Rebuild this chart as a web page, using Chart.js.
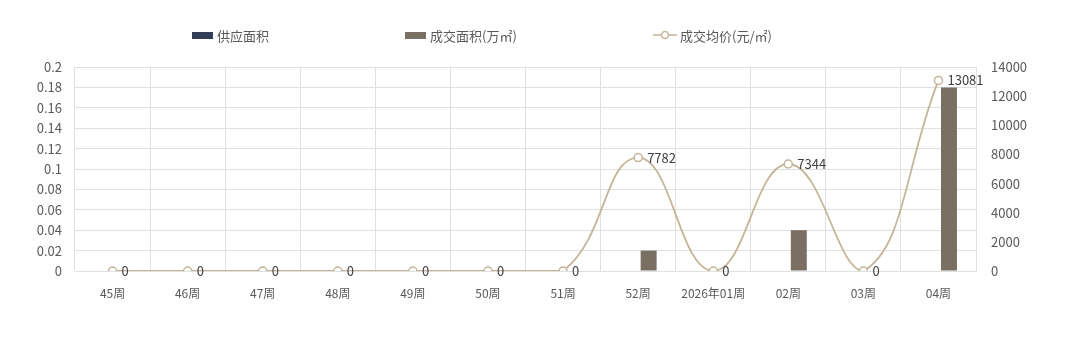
<!DOCTYPE html>
<html lang="zh">
<head>
  <meta charset="UTF-8" />
  <title>供应成交走势</title>
  <script src="https://cdn.jsdelivr.net/npm/chart.js"></script>
  <style>
    html, body { margin: 0; padding: 0; background: #fff; }
    .wrap { position: relative; width: 1080px; height: 351px; }
    .legend { position: absolute; top: 0; left: 0; width: 1080px; height: 60px;
      font-family: "Noto Sans CJK SC", "Noto Sans", sans-serif; font-size: 13px; color: #595959; }
    .legend .item { position: absolute; top: 26px; height: 18px; display: flex; align-items: center; }
    .legend .box { width: 21px; height: 7px; margin-right: 4px; }
  </style>
</head>
<body>
  <div class="wrap">
    <div class="legend">
      <div class="item" style="left:192px"><span class="box" style="background:#333e57"></span>供应面积</div>
      <div class="item" style="left:405px"><span class="box" style="background:#7a6f63"></span>成交面积(万㎡)</div>
      <div class="item" style="left:653px">
        <svg width="24" height="10" style="margin-right:3px">
          <line x1="0" y1="5" x2="24" y2="5" stroke="#c4b597" stroke-width="1.5" />
          <circle cx="12" cy="5" r="3.5" fill="#fff" stroke="#c4b597" stroke-width="1.5" />
        </svg>成交均价(元/㎡)
      </div>
    </div>
    <canvas id="chart" width="1080" height="351"></canvas>
  </div>

  <script>
    const weeks = ["45周", "46周", "47周", "48周", "49周", "50周", "51周", "52周", "2026年01周", "02周", "03周", "04周"];
    const supplyArea = [0, 0, 0, 0, 0, 0, 0, 0, 0, 0, 0, 0];
    const dealArea = [0, 0, 0, 0, 0, 0, 0, 0.02, 0, 0.04, 0, 0.18];
    const avgPrice = [0, 0, 0, 0, 0, 0, 0, 7782, 0, 7344, 0, 13081];

    const fontFamily = '"Noto Sans CJK SC", "Noto Sans", sans-serif';
    const gridColor = "#e0e0e0";

    // value labels next to the price points
    const pointLabels = {
      id: "pointLabels",
      afterDatasetsDraw(chart) {
        const ctx = chart.ctx;
        const meta = chart.getDatasetMeta(2);
        ctx.save();
        ctx.font = "13px " + fontFamily;
        ctx.fillStyle = "#404040";
        ctx.textAlign = "left";
        ctx.textBaseline = "middle";
        meta.data.forEach((pt, i) => {
          ctx.fillText(String(avgPrice[i]), pt.x + 9, pt.y);
        });
        ctx.restore();
      }
    };

    new Chart(document.getElementById("chart"), {
      type: "bar",
      data: {
        labels: weeks,
        datasets: [
          {
            label: "供应面积",
            data: supplyArea,
            backgroundColor: "#333e57",
            yAxisID: "y",
            order: 1,
            categoryPercentage: 0.56,
            barPercentage: 0.76
          },
          {
            label: "成交面积(万㎡)",
            data: dealArea,
            backgroundColor: "#7a6f63",
            yAxisID: "y",
            order: 1,
            categoryPercentage: 0.56,
            barPercentage: 0.76
          },
          {
            type: "line",
            label: "成交均价(元/㎡)",
            data: avgPrice,
            borderColor: "#c4b597",
            borderWidth: 1.8,
            tension: 0.45,
            pointRadius: 4,
            pointBorderWidth: 1.5,
            pointBackgroundColor: "#fff",
            pointBorderColor: "#c4b597",
            yAxisID: "y1",
            order: 0
          }
        ]
      },
      options: {
        responsive: false,
        animation: false,
        layout: { padding: { top: 67, left: 0, right: 0, bottom: 0 } },
        plugins: {
          legend: { display: false },
          tooltip: { enabled: false }
        },
        scales: {
          x: {
            afterFit(scale) { scale.height = 80; },
            grid: { color: gridColor, drawTicks: false, offset: true },
            border: { color: gridColor },
            ticks: { color: "#595959", font: { family: fontFamily, size: 12 }, padding: 15, maxRotation: 0, autoSkip: false }
          },
          y: {
            position: "left",
            min: 0,
            max: 0.2,
            afterFit(scale) { scale.width = 75; },
            grid: { color: gridColor, drawTicks: false },
            border: { display: false },
            ticks: {
              stepSize: 0.02,
              padding: 13,
              color: "#595959",
              font: { family: fontFamily, size: 13 },
              callback: v => String(+v.toFixed(2))
            }
          },
          y1: {
            position: "right",
            min: 0,
            max: 14000,
            afterFit(scale) { scale.width = 104; },
            grid: { display: false, drawTicks: false },
            border: { display: false },
            ticks: {
              stepSize: 2000,
              padding: 15,
              color: "#595959",
              font: { family: fontFamily, size: 13 },
              callback: v => String(v)
            }
          }
        }
      },
      plugins: [pointLabels]
    });
  </script>
</body>
</html>
